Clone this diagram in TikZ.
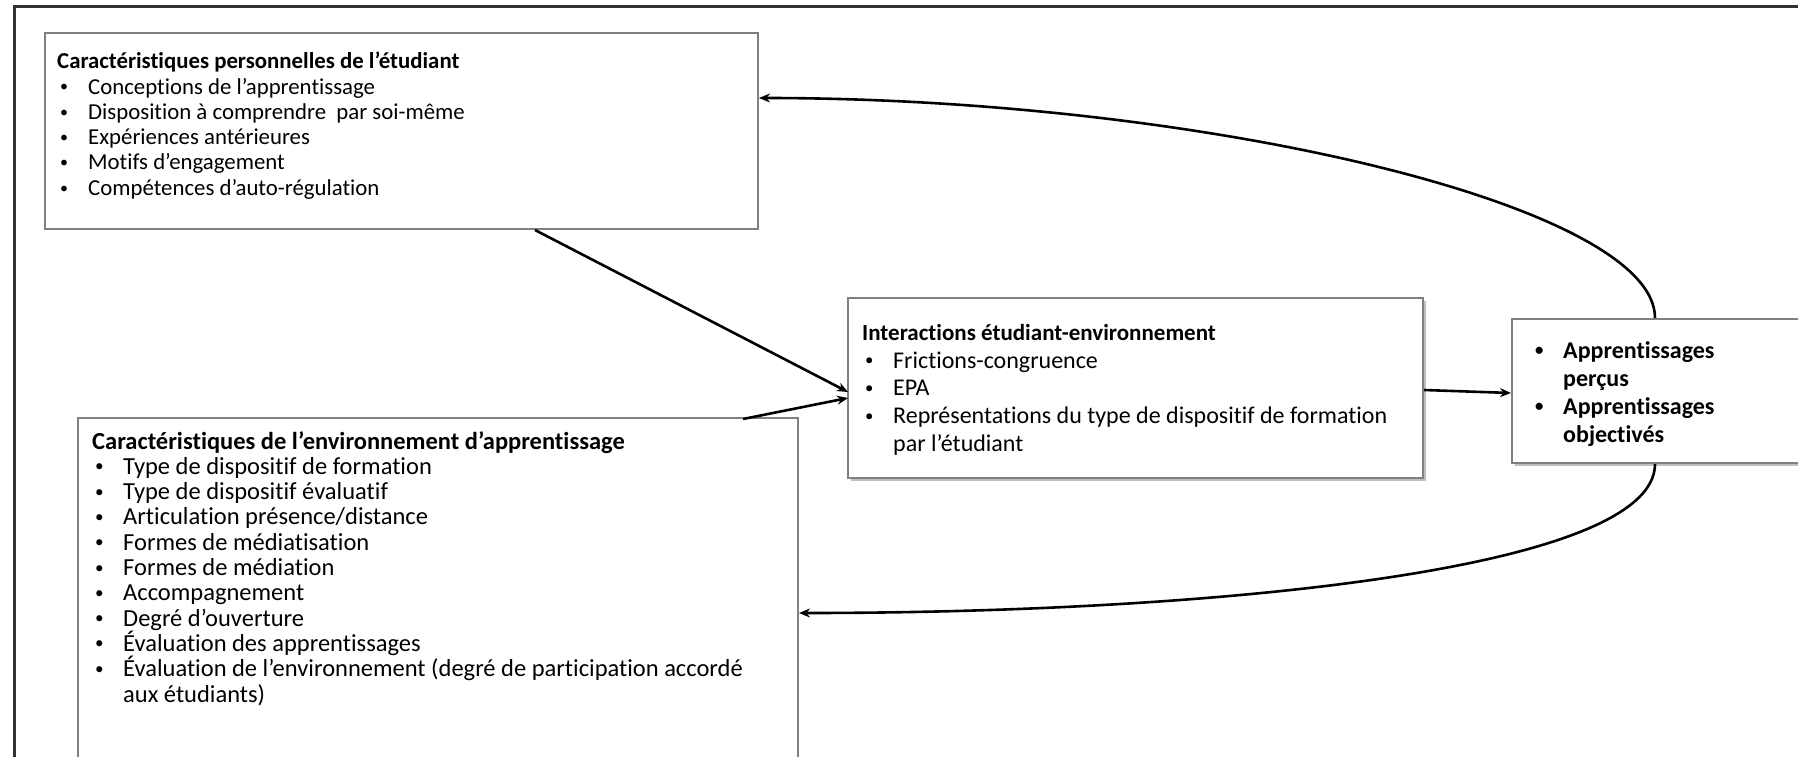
\documentclass[tikz,border=0pt]{standalone}
\usepackage{fontspec}
\setmainfont{Carlito}[Ligatures={NoCommon}]
\usetikzlibrary{arrows.meta,shadows}

\definecolor{boxgray}{RGB}{128,128,128}
\definecolor{framegray}{RGB}{50,50,50}

% bullet item with hanging indent
\newcommand\bulmark{\raisebox{0.1em}{\scalebox{0.7}{•}}}
\newcommand\itm[1]{\makebox[31pt][l]{\hspace*{3pt}\bulmark}#1}
\newcommand\cont[1]{\hspace*{31pt}#1}

\begin{document}
\begin{tikzpicture}[x=1pt,y=-1pt,
  box/.style={draw=boxgray, line width=2pt, fill=white, anchor=north west,
    inner sep=0pt, outer sep=0pt},
  shadowbox/.style={box, drop shadow={shadow xshift=2.5pt, shadow yshift=-2.5pt,
    fill=black, opacity=0.25}},
  txt/.style={anchor=north west, align=left, inner sep=0pt},
  link/.style={line width=2.6pt, draw=black, -{Stealth[length=11pt,width=9pt]}},
  frameline/.style={line width=3pt, draw=framegray}
]
\clip (0,0) rectangle (1798,757);
\fill[white] (0,0) rectangle (1798,757);

% outer frame (top and left sides)
\draw[frameline] (14,800) -- (14,7) -- (1850,7);

% boxes
\node[box, minimum width=713pt, minimum height=196pt] (perso) at (45,33) {};
\node[box, minimum width=720pt, minimum height=360pt] (env) at (78,418) {};
\node[shadowbox, minimum width=575pt, minimum height=180pt] (inter) at (848,298) {};
\node[shadowbox, minimum width=320pt, minimum height=144pt] (res) at (1512,319) {};

% box contents
\node[txt, font=\fontsize{22.8}{25.3}\selectfont] (persotxt) at (57,52) {%
  \textbf{Caractéristiques personnelles de l’étudiant}\\
  \itm{Conceptions de l’apprentissage}\\
  \itm{Disposition à comprendre \ par soi-même}\\
  \itm{Expériences antérieures}\\
  \itm{Motifs d’engagement}\\
  \itm{Compétences d’auto-régulation}};

\node[txt, font=\fontsize{24.5}{25.3}\selectfont] (envtxt) at (92,431) {%
  \textbf{Caractéristiques de l’environnement d’apprentissage}\\
  \itm{Type de dispositif de formation}\\
  \itm{Type de dispositif évaluatif}\\
  \itm{Articulation présence/distance}\\
  \itm{Formes de médiatisation}\\
  \itm{Formes de médiation}\\
  \itm{Accompagnement}\\
  \itm{Degré d’ouverture}\\
  \itm{Évaluation des apprentissages}\\
  \itm{Évaluation de l’environnement (degré de participation accordé}\\
  \cont{aux étudiants)}};

\node[txt, font=\fontsize{24}{27.7}\selectfont] (intertxt) at (862,324) {%
  {\fontsize{23}{27.7}\selectfont\textbf{Interactions étudiant-environnement}}\\
  \itm{Frictions-congruence}\\
  \itm{EPA}\\
  \itm{Représentations du type de dispositif de formation}\\
  \cont{par l’étudiant}};

\node[txt, font=\fontsize{24}{28}\selectfont\bfseries] (restxt) at (1532,341) {%
  \itm{Apprentissages}\\
  \cont{perçus}\\
  \itm{Apprentissages}\\
  \cont{objectivés}};

% connector end points on box edges
\coordinate (pOut) at (535,230);
\coordinate (eOut) at (743,419);
\coordinate (iInA) at (848,392);
\coordinate (iInB) at (848,398);
\coordinate (iOut) at (1424,390);
\coordinate (rIn) at (1511,393);
\coordinate (rTop) at (1655,318);
\coordinate (rBot) at (1655,464);
\coordinate (pIn) at (759,98);
\coordinate (eIn) at (799,613);

\draw[link] (pOut) -- (iInA);
\draw[link] (eOut) -- (iInB);
\draw[link] (iOut) -- (rIn);
\draw[link] (rTop) .. controls (1655,205) and (1200,98) .. (pIn);
\draw[link] (rBot) .. controls (1655,572) and (1200,613) .. (eIn);
\end{tikzpicture}
\end{document}
